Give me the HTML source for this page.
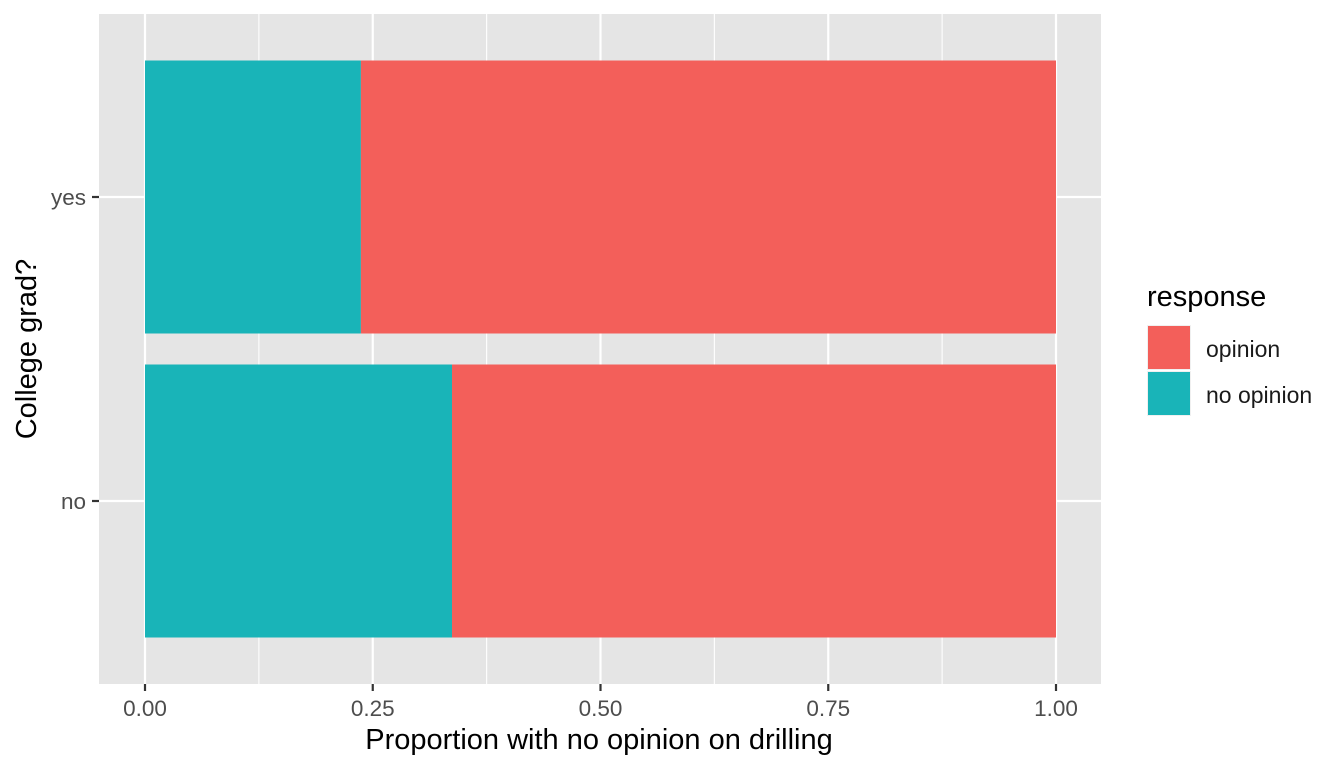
<!DOCTYPE html>
<html><head><meta charset="utf-8"><style>
body{margin:0;background:#fff;font-family:"Liberation Sans",Arial,sans-serif}
</style></head><body>
<svg width="1344" height="768" xmlns="http://www.w3.org/2000/svg" id="chart" font-family="Liberation Sans, Arial, sans-serif">
<rect x="99" y="14" width="1002" height="670" fill="#e5e5e5"/>
<g id="grid"></g><g id="bars"></g><g id="axes"></g>
<text x="599" y="749" font-size="29" text-anchor="middle" fill="#000">Proportion with no opinion on drilling</text>
<text transform="translate(36,349) rotate(-90)" font-size="29" text-anchor="middle" fill="#000">College grad?</text>
<g>
<text x="1147" y="306" font-size="29" fill="#000">response</text>
<rect x="1147" y="325" width="44" height="45" fill="#f0f0f0"/>
<rect x="1148" y="326" width="42" height="43" fill="#f35f5a"/>
<text x="1206" y="357" font-size="23" fill="#1a1a1a">opinion</text>
<rect x="1147" y="371" width="44" height="45" fill="#f0f0f0"/>
<rect x="1148" y="372" width="42" height="43" fill="#19b4b8"/>
<text x="1206" y="403" font-size="23" fill="#1a1a1a">no opinion</text>
</g>
</svg>
<script>
const categories=["no","yes"];
const noOpinion=[0.337,0.237];
const opinion=[0.663,0.763];
const xTicks=[0,0.25,0.5,0.75,1];
const xTickLabels=["0.00","0.25","0.50","0.75","1.00"];
const NS="http://www.w3.org/2000/svg";
const X=v=>145+v*911;
const Y=i=>501-i*304;
const bw=273;
function mk(p,t,a){const e=document.createElementNS(NS,t);for(const k in a)e.setAttribute(k,a[k]);p.appendChild(e);return e;}
const grid=document.getElementById('grid'),bars=document.getElementById('bars'),axes=document.getElementById('axes');
for(let i=0;i<xTicks.length-1;i++){const m=(xTicks[i]+xTicks[i+1])/2;
const g=mk(grid,'line',{x1:X(m),x2:X(m),y1:14,y2:684,stroke:'#fff','stroke-width':1.1});

}
xTicks.forEach((t,i)=>{
const g=mk(grid,'line',{x1:X(t),x2:X(t),y1:14,y2:684,stroke:'#fff','stroke-width':2.2});


const tk=mk(axes,'line',{x1:X(t),x2:X(t),y1:684,y2:691,stroke:'#333','stroke-width':2.2});


const tl=mk(axes,'text',{x:X(t),y:716,'font-size':22.5,'text-anchor':'middle',fill:'#4d4d4d'});
tl.textContent=xTickLabels[i];

});
categories.forEach((c,i)=>{
const y=Y(i);
const g=mk(grid,'line',{x1:99,x2:1101,y1:y,y2:y,stroke:'#fff','stroke-width':2.2});


const b1=mk(bars,'rect',{x:X(0),y:y-bw/2,width:X(noOpinion[i])-X(0),height:bw,fill:'#19b4b8'});


const b2=mk(bars,'rect',{x:X(noOpinion[i]),y:y-bw/2,width:X(noOpinion[i]+opinion[i])-X(noOpinion[i]),height:bw,fill:'#f35f5a'});


const tk=mk(axes,'line',{x1:92,x2:99,y1:y,y2:y,stroke:'#333','stroke-width':2.2});


const tl=mk(axes,'text',{x:86,y:y+8,'font-size':22.5,'text-anchor':'end',fill:'#4d4d4d'});
tl.textContent=c;

});
</script>
</body></html>
